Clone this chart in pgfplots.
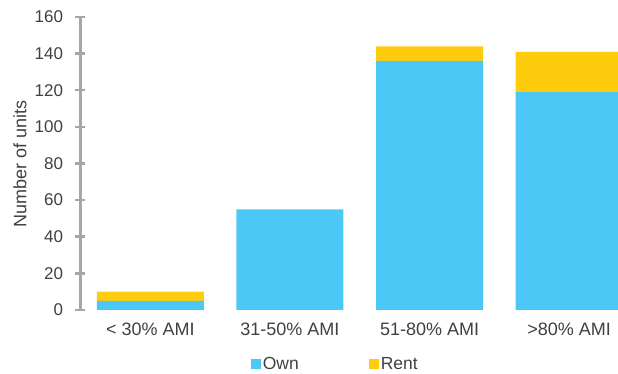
\documentclass[border=0pt]{standalone}
\usepackage{pgfplots}
\pgfplotsset{compat=1.18}
\usepackage{fontspec}
\setmainfont{Liberation Sans}
\definecolor{ownc}{HTML}{4BC8F5}
\definecolor{rentc}{HTML}{FFCB0D}
\definecolor{txt}{HTML}{404040}
\definecolor{axc}{HTML}{A6A6A6}
\begin{document}
\begin{tikzpicture}
\begin{axis}[
  at={(0pt,0pt)}, anchor=south west,
  scale only axis, width=537.5pt, height=293pt,
  ybar stacked, bar width=107pt,
  xmin=-0.5, xmax=3.35, ymin=0, ymax=160,
  xtick={0,1,2,3},
  xticklabels={{< 30\% AMI},{31-50\% AMI},{51-80\% AMI},{>80\% AMI}},
  ytick={0,20,...,160},
  axis lines=left,
  axis line style={-, draw=axc, line width=2.5pt},
  x axis line style={draw=none},
  x tick style={draw=none},
  y tick style={draw=axc, line width=2.5pt},
  tick align=center, major tick length=10pt,
  y tick label style={font=\fontsize{17}{20}\selectfont, text=txt, xshift=-9pt},
  x tick label style={font=\fontsize{18}{21}\selectfont, text=txt, yshift=-4pt},
  /pgf/number format/assume math mode=true,
  ylabel={Number of units},
  every axis y label/.style={at={([xshift=-60.5pt]axis description cs:0,0.5)}, rotate=90, anchor=center, font=\fontsize{18}{21}\selectfont, text=txt},
  legend style={at={(0.474,-0.184)}, anchor=center, draw=none, fill=none,
    font=\fontsize{17.5}{20}\selectfont, text=txt, legend columns=2,
    /tikz/every even column/.append style={column sep=68pt}},
  legend image code/.code={\fill[#1] (0pt,-5pt) rectangle (10pt,5pt);},
]
\addplot[fill=ownc, draw=none] coordinates {(0,5) (1,55) (2,136) (3,119)};
\addplot[fill=rentc, draw=none] coordinates {(0,5) (1,0) (2,8) (3,22)};
\legend{Own, Rent}
\end{axis}
\pgfresetboundingbox
\path[use as bounding box] (-80.5pt,-64pt) rectangle (537.5pt,310pt);
\end{tikzpicture}
\end{document}
